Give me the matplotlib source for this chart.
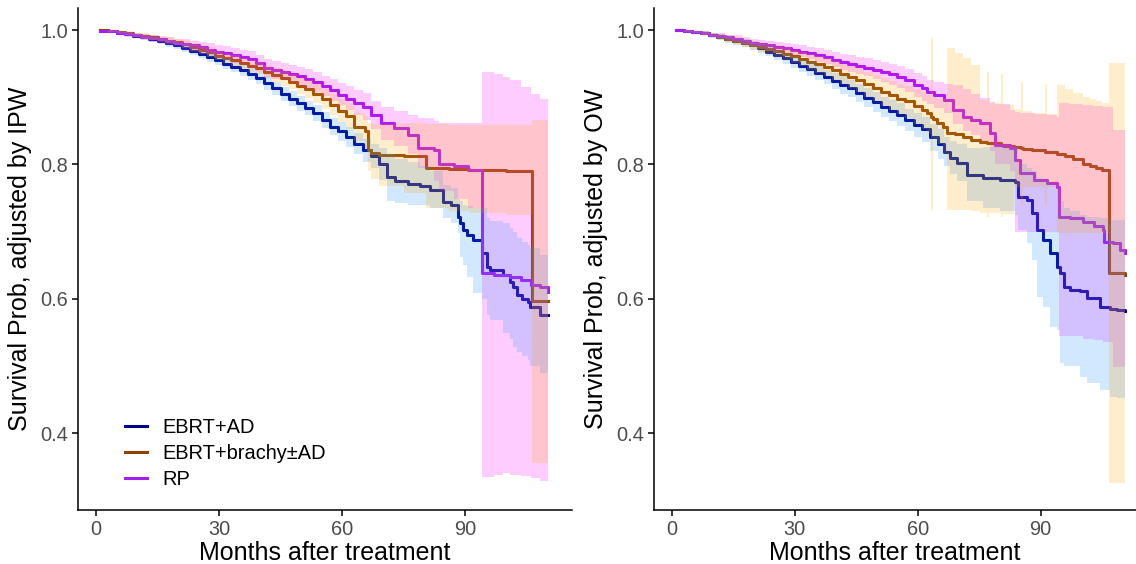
import matplotlib
matplotlib.use("Agg")
import matplotlib.pyplot as plt

plt.rcParams["font.family"] = ["Liberation Sans", "DejaVu Sans"]

groups = ["EBRT+AD", "EBRT+brachy±AD", "RP"]
line_colors = ["#00008B", "#8B4500", "#A020F0"]
band_colors = ["#1E90FF", "#FFA500", "#FF00FF"]

# ---- IPW (left panel) ----
ipw_ad_t = [1, 3, 5, 7, 9, 11, 13, 15, 17, 19, 21, 23, 25, 27, 29, 31, 33, 35, 37, 39,
            41, 43, 45, 47, 49, 51, 53, 55, 57, 59, 61, 63, 65, 67, 69, 71, 73,
            76, 79, 81.5, 84.7, 86.5, 88.3, 88.8, 89.6, 90.5, 92, 94.1, 95.4, 96, 99.3, 101,
            101.8, 102.6, 104, 105.4, 105.9, 108.3, 110.2]
ipw_ad_s = [1.000, .998, .996, .994, .991, .989, .986, .983, .980, .977,
            .973, .969, .965, .960, .955, .950, .945, .940, .934, .928,
            .921, .913, .905, .898, .891, .884, .876, .866, .856, .849,
            .841, .831, .821, .813, .800, .781, .775,
            .771, .768, .762, .744, .740, .722, .712, .702, .695, .6875, .668, .647, .642, .635, .625,
            .618, .606, .600, .595, .588, .576, .576]
ipw_ad_lo = [1.0, .996, .994, .991, .988, .986, .982, .979, .975, .972,
             .967, .963, .959, .953, .948, .942, .937, .932, .925, .919,
             .911, .903, .895, .887, .880, .873, .864, .854, .843, .835,
             .826, .815, .804, .795, .776, .745, .742,
             .740, .740, .735, .720, .712, .698, .662, .650, .632, .608, .600, .575, .568, .549, .540,
             .528, .520, .515, .509, .500, .489, .489]
ipw_ad_hi = [1.0, .999, .998, .997, .994, .992, .990, .987, .985, .982,
             .979, .975, .971, .967, .962, .958, .953, .948, .943, .937,
             .931, .923, .915, .909, .902, .895, .888, .878, .869, .863,
             .856, .847, .838, .831, .824, .815, .808,
             .803, .798, .790, .770, .765, .748, .745, .740, .738, .735, .735, .720, .716, .712, .705,
             .700, .690, .685, .680, .675, .665, .665]

ipw_br_t = [1, 3, 5, 7, 9, 11, 13, 15, 17, 19, 21, 23, 25, 27, 29, 31, 33, 35, 37, 39,
            41, 43, 45, 47, 49, 51, 53, 55, 57, 59, 61, 63,
            65.5, 66.3, 67, 69, 75, 80.6, 86, 91, 100, 106.3, 110.2]
ipw_br_s = [1.000, .999, .997, .995, .993, .991, .989, .986, .984, .982,
            .979, .975, .971, .967, .962, .958, .955, .951, .947, .943,
            .938, .933, .928, .923, .917, .912, .905, .897, .889, .880,
            .872, .856,
            .850, .821, .817, .814, .813, .794, .793, .792, .790, .596, .596]
ipw_br_lo = [1.0, .997, .995, .992, .990, .987, .985, .982, .979, .977,
             .973, .969, .965, .960, .955, .951, .947, .943, .938, .934,
             .928, .923, .917, .912, .905, .899, .891, .882, .873, .863,
             .853, .835,
             .825, .790, .778, .768, .758, .735, .730, .728, .724, .355, .355]
ipw_br_hi = [1.0, 1.0, .999, .998, .996, .995, .993, .990, .989, .987,
             .985, .981, .977, .974, .969, .965, .963, .959, .956, .952,
             .948, .943, .939, .934, .929, .925, .919, .912, .905, .897,
             .891, .877,
             .872, .862, .860, .860, .862, .860, .859, .858, .858, .866, .866]

ipw_rp_t = [1, 3, 5, 7, 9, 11, 13, 15, 17, 19, 21, 23, 25, 27, 29, 31, 33, 35, 37, 39,
            41, 43, 45, 47, 49, 51, 53, 55, 57, 59, 61,
            63, 65, 67, 69.5, 72.8, 76, 78.5, 82.5, 83.7, 87.4, 90.7, 94.1, 97, 99.3, 101,
            103.6, 106, 108.3, 110.2]
ipw_rp_s = [.999, .998, .996, .994, .992, .990, .988, .986, .984, .981,
            .979, .977, .974, .971, .968, .966, .963, .960, .957, .951,
            .944, .941, .938, .935, .931, .927, .923, .917, .911, .904,
            .898,
            .892, .886, .874, .861, .854, .844, .824, .822, .800, .797, .792, .638, .636, .635, .632,
            .628, .620, .617, .610]
ipw_rp_lo = [.999, .996, .993, .990, .988, .985, .982, .980, .977, .974,
             .971, .968, .965, .961, .958, .955, .951, .948, .944, .938,
             .930, .927, .925, .921, .917, .912, .908, .902, .895, .888,
             .881,
             .874, .866, .852, .836, .828, .815, .795, .775, .760, .748, .735, .335, .337, .340, .338,
             .336, .333, .328, .322]
ipw_rp_hi = [1.0, .999, .998, .997, .996, .994, .993, .991, .990, .987,
             .986, .984, .982, .980, .977, .976, .973, .971, .969, .963,
             .957, .954, .951, .948, .945, .942, .937, .932, .927, .921,
             .916,
             .911, .906, .895, .886, .880, .873, .869, .864, .862, .861, .861, .937, .935, .930, .925,
             .915, .905, .898, .898]

# ---- OW (right panel) ----
ow_ad_t = [1, 3, 5, 7, 9, 11, 13, 15, 17, 19, 21, 23, 25, 27, 29, 31, 33, 35, 37, 39,
           41, 43, 45, 47, 49, 51, 53, 55, 57, 59, 61, 63,
           65, 66.3, 68, 69.5, 72, 76, 80, 83.8, 84.6, 86.6, 87.9, 89.1, 90.7, 92.3, 93.9, 94.8,
           95.6, 97.2, 99.7, 101.3, 104.5, 107, 108.6, 110.5]
ow_ad_s = [1.000, .998, .997, .995, .992, .990, .986, .983, .980, .977,
           .973, .968, .963, .958, .953, .947, .942, .936, .930, .924,
           .918, .913, .906, .899, .893, .886, .880, .874, .866, .859,
           .852, .840,
           .830, .819, .810, .802, .784, .780, .777, .774, .752, .747, .727, .702, .688, .668, .647, .638,
           .618, .613, .611, .601, .588, .585, .583, .581]
ow_ad_lo = [1.0, .996, .994, .992, .988, .985, .981, .978, .974, .970,
            .966, .961, .955, .950, .944, .938, .932, .925, .919, .912,
            .905, .900, .893, .885, .878, .871, .864, .857, .849, .841,
            .834, .820,
            .808, .797, .786, .775, .745, .735, .730, .725, .702, .683, .658, .603, .588, .558, .553, .504,
            .500, .500, .484, .474, .464, .454, .452, .452]
ow_ad_hi = [1.0, 1.0, .999, .998, .996, .994, .991, .988, .986, .983,
            .980, .976, .971, .966, .962, .956, .952, .947, .941, .936,
            .931, .926, .919, .913, .908, .901, .896, .891, .883, .877,
            .870, .860,
            .852, .841, .835, .830, .825, .826, .826, .826, .800, .795, .790, .780, .775, .770, .766, .745,
            .735, .730, .725, .722, .720, .717, .717, .717]

ow_br_t = [1, 3, 5, 7, 9, 11, 13, 15, 17, 19, 21, 23, 25, 27, 29, 31, 33, 35, 37, 39,
           41, 43, 45, 47, 49, 51, 53, 55, 57, 59, 61,
           62.2, 63.2, 63.7, 64.6, 66.2, 67.1, 69, 71, 73, 75.2, 76.8, 77.3, 80.4, 80.9, 83.5,
           85.3, 85.8, 88, 91.0, 91.5, 94.0, 96, 98, 100.3, 102, 103.5, 105, 106.8, 110.5]
ow_br_s = [1.000, .999, .997, .995, .993, .990, .987, .984, .981, .978,
           .975, .972, .969, .965, .961, .957, .953, .949, .945, .940,
           .935, .930, .925, .919, .914, .908, .903, .898, .894, .887,
           .881,
           .876, .870, .868, .861, .855, .846, .845, .840, .836, .834, .832, .832, .829, .828, .826,
           .824, .823, .821, .818, .818, .815, .812, .808, .800, .797, .794, .792, .638, .635]
ow_br_lo = [1.0, .997, .995, .992, .989, .986, .982, .979, .975, .971,
            .968, .964, .960, .956, .951, .946, .941, .936, .931, .925,
            .919, .913, .907, .900, .894, .887, .881, .875, .869, .860,
            .852,
            .845, .732, .838, .830, .815, .732, .732, .732, .731, .728, .722, .728, .722, .726, .766,
            .740, .766, .766, .740, .766, .698, .698, .698, .698, .698, .698, .698, .326, .323]
ow_br_hi = [1.0, 1.0, .999, .998, .996, .994, .992, .989, .987, .984,
            .982, .979, .977, .974, .970, .967, .964, .961, .958, .954,
            .950, .946, .942, .937, .933, .928, .924, .920, .917, .912,
            .906,
            .903, .988, .900, .898, .898, .973, .966, .958, .948, .896, .9375, .892, .935, .888, .883,
            .923, .879, .877, .920, .875, .918, .912, .906, .900, .897, .894, .891, .951, .951]

ow_rp_t = [1, 3, 5, 7, 9, 11, 13, 15, 17, 19, 21, 23, 25, 27, 29, 31, 33, 35, 37, 39,
           41, 43, 45, 47, 49, 51, 53, 55, 57, 59, 61,
           62.2, 64, 66.3, 68.7, 71.1, 73, 75.2, 77.7, 78.9, 82.5, 83.8, 85, 88.3, 91.5, 94, 94.4,
           97.1, 100.3, 103, 105.2, 105.6, 107.7, 109.3, 110.5]
ow_rp_s = [1.000, .999, .997, .995, .993, .991, .989, .987, .984, .981,
           .979, .977, .975, .973, .971, .968, .966, .963, .960, .956,
           .953, .950, .947, .944, .941, .938, .934, .930, .925, .918,
           .913,
           .908, .903, .896, .881, .871, .866, .861, .846, .829, .824, .807, .787, .777, .772, .766, .722,
           .720, .714, .708, .702, .685, .683, .673, .668]
ow_rp_lo = [1.0, .997, .995, .993, .990, .988, .985, .983, .979, .976,
            .973, .971, .968, .966, .963, .960, .957, .953, .950, .945,
            .941, .938, .934, .931, .927, .923, .918, .914, .908, .900,
            .895,
            .890, .884, .876, .860, .850, .843, .835, .820, .800, .790, .700, .700, .700, .700, .700, .545,
            .545, .540, .538, .536, .535, .498, .498, .498]
ow_rp_hi = [1.0, 1.0, .999, .998, .996, .995, .993, .992, .989, .987,
            .985, .984, .982, .980, .979, .977, .975, .973, .971, .968,
            .965, .963, .960, .958, .956, .953, .950, .946, .942, .936,
            .931,
            .926, .922, .920, .918, .912, .905, .899, .893, .890, .881, .878, .877, .875, .873, .871, .891,
            .890, .888, .887, .886, .886, .851, .851, .851]

ipw = [(ipw_ad_t, ipw_ad_s, ipw_ad_lo, ipw_ad_hi),
       (ipw_br_t, ipw_br_s, ipw_br_lo, ipw_br_hi),
       (ipw_rp_t, ipw_rp_s, ipw_rp_lo, ipw_rp_hi)]
ow = [(ow_ad_t, ow_ad_s, ow_ad_lo, ow_ad_hi),
      (ow_br_t, ow_br_s, ow_br_lo, ow_br_hi),
      (ow_rp_t, ow_rp_s, ow_rp_lo, ow_rp_hi)]

# order in which the ribbons are layered (RP, EBRT+AD, EBRT+brachy)
band_order = [2, 0, 1]

fig = plt.figure(figsize=(11.36, 5.64), dpi=100)
ax1 = fig.add_axes([78 / 1136, 54 / 564, 494 / 1136, 502 / 564])
ax2 = fig.add_axes([654 / 1136, 54 / 564, 482 / 1136, 502 / 564])


def draw_panel(ax, data, ylabel, xmax):
    # lines first, ribbons on top (as in the original)
    for (t, s, lo, hi), lc, grp in zip(data, line_colors, groups):
        ax.step(t, s, where="post", color=lc, linewidth=2.2, label=grp, zorder=2)
    for i in band_order:
        t, s, lo, hi = data[i]
        ax.fill_between(t, lo, hi, step="post", color=band_colors[i], alpha=0.2,
                        linewidth=0, zorder=3)

    ax.set_xlim(-4.4, xmax)
    ax.set_ylim(0.2854, 1.0328)
    ax.set_xticks([0, 30, 60, 90])
    ax.set_yticks([0.4, 0.6, 0.8, 1.0])
    ax.set_yticklabels(["0.4", "0.6", "0.8", "1.0"])
    ax.spines["top"].set_visible(False)
    ax.spines["right"].set_visible(False)
    for sp in ["left", "bottom"]:
        ax.spines[sp].set_linewidth(1.1)
    ax.tick_params(axis="both", direction="out", length=4, width=1.1,
                   labelsize=14.4, labelcolor="#4D4D4D", color="black", pad=3)
    ax.set_xlabel("Months after treatment", fontsize=18, labelpad=2)
    ax.set_ylabel(ylabel, fontsize=18, labelpad=6)


draw_panel(ax1, ipw, "Survival Prob, adjusted by IPW", 116.1)
draw_panel(ax2, ow, "Survival Prob, adjusted by OW", 113.3)

ax1.legend(loc="lower left", bbox_to_anchor=(0.058, 0.005), frameon=False,
           fontsize=14.4, handlelength=1.1, handletextpad=0.8, labelspacing=0.35)

fig.savefig("out.png", dpi=100)
